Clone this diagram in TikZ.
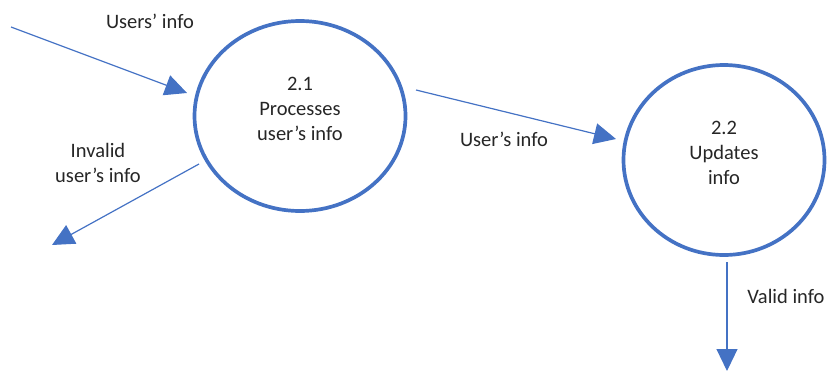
\documentclass[tikz,border=0pt]{standalone}
\usepackage{fontspec}
\setmainfont{Carlito}
\usetikzlibrary{shapes.geometric,arrows.meta}
\definecolor{flowblue}{HTML}{4472C4}
\begin{document}
\begin{tikzpicture}[x=1pt,y=-1pt,
  process/.style={ellipse,draw=flowblue,line width=3.7pt,inner sep=0pt},
  flow/.style={draw=flowblue,line width=1.2pt,-{Triangle[length=22pt,width=21pt]}},
  lbl/.style={font=\fontsize{20.5}{25}\selectfont,text=black!85,align=center,inner sep=0pt}]
\useasboundingbox (0,0) rectangle (827,372);

% processes
\node[process,minimum width=211pt,minimum height=190pt] (p1) at (300,116) {};
\node[process,minimum width=201pt,minimum height=190pt] (p2) at (724,160) {};

\node[lbl] (p1t) at (300,109) {2.1\\Processes\\user’s info};
\node[lbl] (p2t) at (724,153) {2.2\\Updates\\info};

% flow end points
\coordinate (inS) at (11,27);
\coordinate (inE) at (187,93);
\coordinate (badS) at (199,164);
\coordinate (badE) at (52,245);
\coordinate (midS) at (416,90);
\coordinate (midE) at (616,139);
\coordinate (okS) at (727,262);
\coordinate (okE) at (727,371);

\draw[flow] (inS) -- (inE);
\draw[flow] (badS) -- (badE);
\draw[flow] (midS) -- (midE);
\draw[flow] (okS) -- (okE);

% flow labels
\node[lbl] (l1) at (150,21) {Users’ info};
\node[lbl] (l2) at (98,163) {Invalid\\user’s info};
\node[lbl] (l3) at (504,139) {User’s info};
\node[lbl] (l4) at (786,296) {Valid info};
\end{tikzpicture}
\end{document}
